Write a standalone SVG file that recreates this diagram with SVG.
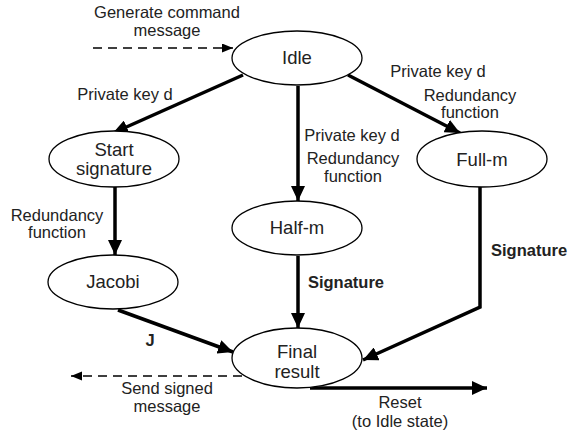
<svg xmlns="http://www.w3.org/2000/svg" width="568" height="430" viewBox="0 0 568 430">
<defs>
<style>
.node ellipse{fill:#fff;stroke:#000;stroke-width:1.3}
.node text{font-family:"Liberation Sans",Arial,sans-serif;font-size:18.5px;fill:#222;text-anchor:middle}
.lbl{font-family:"Liberation Sans",Arial,sans-serif;font-size:16.5px;fill:#222;text-anchor:middle}
.b{font-weight:bold;font-size:16.5px}
.thick{stroke:#000;stroke-width:3.5;fill:none;marker-end:url(#ah)}
.dash{stroke:#000;stroke-width:1.3;fill:none;stroke-dasharray:9 6;marker-end:url(#ahs)}
</style>
<marker id="ah" markerUnits="userSpaceOnUse" markerWidth="16" markerHeight="14" refX="15" refY="7" orient="auto"><path d="M0,0 L15,7 L0,14 z" fill="#000"/></marker>
<marker id="ahs" markerUnits="userSpaceOnUse" markerWidth="12" markerHeight="10" refX="11" refY="4.5" orient="auto"><path d="M0,0 L11,4.5 L0,9 z" fill="#000"/></marker>
</defs>
<rect width="568" height="430" fill="#fff"/>
<g id="connectors">
<line class="dash" x1="93" y1="48" x2="233" y2="48"/>
<line class="thick" x1="243" y1="75" x2="113" y2="133"/>
<line class="thick" x1="298" y1="86" x2="298" y2="201"/>
<line class="thick" x1="348" y1="75" x2="460" y2="133"/>
<line class="thick" x1="115" y1="187" x2="115" y2="255"/>
<line class="thick" x1="298" y1="256" x2="298" y2="328"/>
<polyline class="thick" points="480,187 480,307 363,360"/>
<line class="thick" x1="118" y1="310" x2="233" y2="352"/>
<line class="thick" x1="310" y1="388" x2="487" y2="388"/>
<line class="dash" x1="242" y1="376" x2="71" y2="376"/>
</g>
<g id="labels">
<text class="lbl" x="167" y="18">Generate command</text>
<text class="lbl" x="167" y="36">message</text>
<text class="lbl" x="125" y="100">Private key d</text>
<text class="lbl" x="438" y="77">Private key d</text>
<text class="lbl" x="470" y="101">Redundancy</text>
<text class="lbl" x="470" y="118">function</text>
<text class="lbl" x="352" y="141">Private key d</text>
<text class="lbl" x="353" y="164">Redundancy</text>
<text class="lbl" x="353" y="182">function</text>
<text class="lbl" x="57" y="221">Redundancy</text>
<text class="lbl" x="57" y="238">function</text>
<text class="lbl b" x="346" y="288">Signature</text>
<text class="lbl b" x="491" y="256" style="text-anchor:start">Signature</text>
<text class="lbl b" x="150" y="346">J</text>
<text class="lbl" x="167" y="394">Send signed</text>
<text class="lbl" x="167" y="412">message</text>
<text class="lbl" x="400" y="408">Reset</text>
<text class="lbl" x="400" y="427">(to Idle state)</text>
</g>
<g id="idle" class="node"><ellipse cx="297" cy="58" rx="65" ry="27"/><text x="297" y="64">Idle</text></g>
<g id="start" class="node"><ellipse cx="114" cy="159" rx="65" ry="28"/><text x="114" y="156">Start</text><text x="114" y="175">signature</text></g>
<g id="full" class="node"><ellipse cx="482" cy="159" rx="65" ry="28"/><text x="482" y="166">Full-m</text></g>
<g id="half" class="node"><ellipse cx="297" cy="228" rx="65" ry="27"/><text x="297" y="234">Half-m</text></g>
<g id="jacobi" class="node"><ellipse cx="113" cy="282" rx="65" ry="27"/><text x="113" y="288">Jacobi</text></g>
<g id="final" class="node"><ellipse cx="297" cy="358" rx="65" ry="30"/><text x="297" y="358">Final</text><text x="297" y="378">result</text></g>
</svg>
